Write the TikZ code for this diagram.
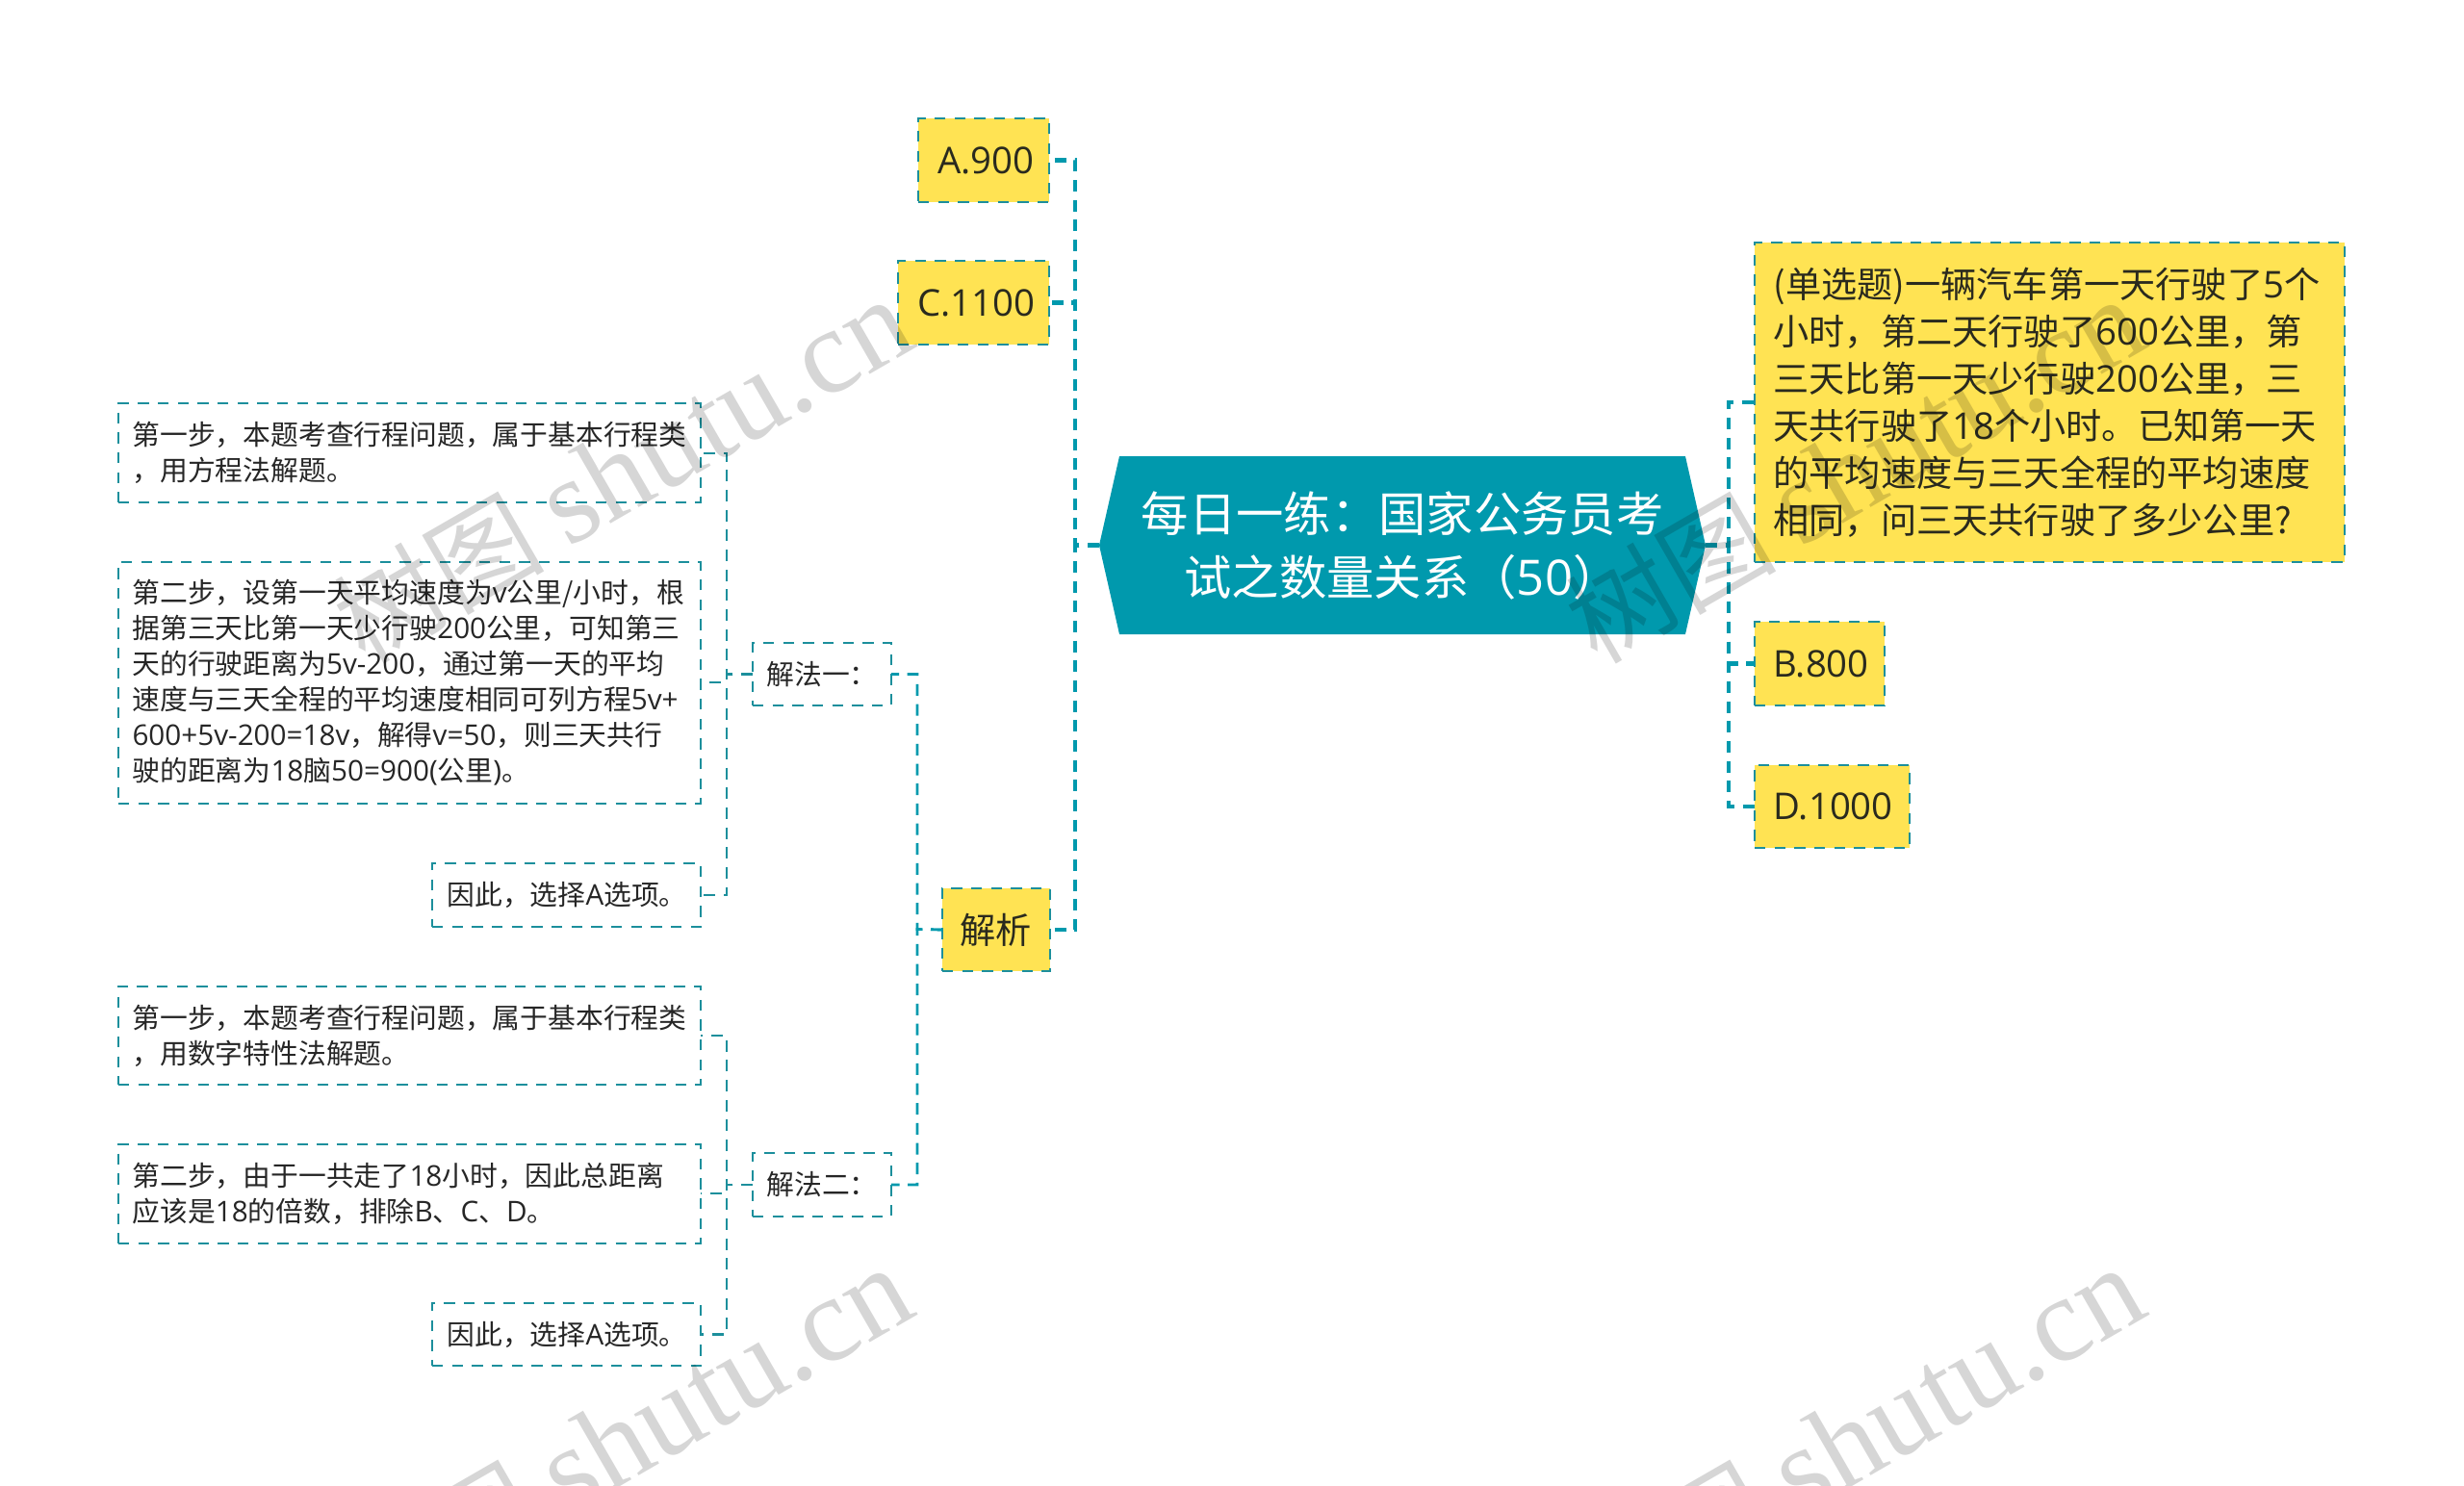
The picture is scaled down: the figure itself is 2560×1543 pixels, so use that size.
\documentclass[tikz,border=0pt]{standalone}
\usepackage{fontspec}
\setmainfont{Noto Sans CJK SC}
\newfontfamily\latf[Scale=1.03]{Open Sans}
\newfontfamily\wmf{Liberation Serif}
\usetikzlibrary{calc,backgrounds}
\definecolor{teal1}{HTML}{0099AD}
\definecolor{edge1}{HTML}{1C8F9C}
\definecolor{yell}{HTML}{FFE353}
\definecolor{ink}{HTML}{2A2A1E}
\newcommand\latn[1]{{\latf #1}}
\newcommand\bnode[8]{%
  \pgfmathsetlengthmacro\bw{(#5-#3)*0.75pt}%
  \pgfmathsetlengthmacro\bh{(#6-#4)*0.75pt}%
  \pgfmathsetlengthmacro\bp{#7*0.75pt}%
  \pgfmathsetlengthmacro\bt{\bw-2*\bp}%
  \node[#1,anchor=north west,minimum width=\bw,minimum height=\bh,
        inner xsep=\bp,text width=\bt] (#2) at (#3,#4) {#8};}
\tikzset{
  yellowbox/.style={draw=edge1,fill=yell,line width=1.5pt,dash pattern=on 8.5pt off 7pt,
    outer sep=0pt,inner ysep=0pt,align=left,text=ink,
    font=\fontsize{27.9pt}{36.75pt}\selectfont},
  plainbox/.style={draw=edge1,line width=1.4pt,dash pattern=on 8.5pt off 7pt,
    outer sep=0pt,inner ysep=0pt,align=left,text=black!85,
    font=\fontsize{21.6pt}{27.75pt}\selectfont},
  rootbox/.style={outer sep=0pt,inner sep=0pt,align=center,text=white,
    font=\fontsize{37pt}{49.5pt}\selectfont,
    minimum width=472.5pt,minimum height=138.75pt},
  connA/.style={draw=teal1,line width=3.2pt,dash pattern=on 9pt off 6.5pt},
  connB/.style={draw=teal1,line width=2pt,dash pattern=on 9pt off 6.5pt},
  connC/.style={draw=edge1,line width=1.6pt,dash pattern=on 9pt off 6.5pt},
  wmark/.style={black,opacity=.16,rotate=30,anchor=south east,inner sep=0pt,
    font=\fontsize{82pt}{82pt}\selectfont},
}
\begin{document}
\begin{tikzpicture}[x=0.75pt,y=-0.75pt]
\useasboundingbox (0,0) rectangle (2560,1543);
\clip (0,0) rectangle (2560,1543);

% root
\node[rootbox] (root) at (1457,566.5) {每日一练：国家公务员考\\试之数量关系（\latn{50}）};
\begin{scope}[on background layer]
\fill[teal1] (root.west) -- ($(root.north west)+(21,0)$) -- ($(root.north east)+(-21,0)$)
  -- (root.east) -- ($(root.south east)+(-21,0)$) -- ($(root.south west)+(21,0)$) -- cycle;
\end{scope}

% right side
\bnode{yellowbox}{q}{1823}{252}{2436}{584}{19.5}{(单选题)一辆汽车第一天行驶了\latn{5}个\\小时，第二天行驶了\latn{600}公里，第\\三天比第一天少行驶\latn{200}公里，三\\天共行驶了\latn{18}个小时。已知第一天\\的平均速度与三天全程的平均速度\\相同，问三天共行驶了多少公里?}
\bnode{yellowbox}{b}{1823}{646}{1958}{733}{19.5}{\latn{B.800}}
\bnode{yellowbox}{d}{1823}{795}{1984}{881}{19.5}{\latn{D.1000}}

% left level 1
\bnode{yellowbox}{a}{954}{123}{1090}{210}{20}{\latn{A.900}}
\bnode{yellowbox}{c}{933}{271}{1090}{358}{20}{\latn{C.1100}}
\bnode{yellowbox}{jx}{979}{923}{1091}{1009}{18}{解析}

% level 2
\bnode{plainbox}{m1}{782}{668}{926}{733}{14.5}{解法一：}
\bnode{plainbox}{m2}{782}{1198}{926}{1264}{14.5}{解法二：}

% level 3
\bnode{plainbox}{s1}{123}{419}{728}{522}{14.5}{第一步，本题考查行程问题，属于基本行程类\\，用方程法解题。}
\bnode{plainbox}{s2}{123}{584}{728}{835}{14.5}{第二步，设第一天平均速度为\latn{v}公里/小时，根\\据第三天比第一天少行驶\latn{200}公里，可知第三\\天的行驶距离为\latn{5v-200}，通过第一天的平均\\速度与三天全程的平均速度相同可列方程\latn{5v+}\\\latn{600+5v-200=18v}，解得\latn{v=50}，则三天共行\\驶的距离为\latn{18}脑\latn{50=900(}公里\latn{)}。}
\bnode{plainbox}{s3}{449}{897}{728}{963}{15.5}{因此，选择\latn{A}选项。}
\bnode{plainbox}{s4}{123}{1025}{728}{1127}{14.5}{第一步，本题考查行程问题，属于基本行程类\\，用数字特性法解题。}
\bnode{plainbox}{s5}{123}{1189}{728}{1292}{14.5}{第二步，由于一共走了\latn{18}小时，因此总距离\\应该是\latn{18}的倍数，排除\latn{B}、\latn{C}、\latn{D}。}
\bnode{plainbox}{s6}{449}{1354}{728}{1419}{15.5}{因此，选择\latn{A}选项。}

% buses
\coordinate (busL) at (1117,566.5);
\coordinate (busR) at (1796,566.5);
\coordinate (busJ) at (953,965.5);
\coordinate (busM1) at (755,700.5);
\coordinate (busM2) at (755,1231);

% connectors from root
\draw[connA] (root.east) -- (busR) |- (q.west |- 0,418);
\draw[connA] (root.east) -- (busR) |- (b.west);
\draw[connA] (root.east) -- (busR) |- (d.west);
\draw[connA] (root.west) -- (busL) |- (a.east);
\draw[connA] (root.west) -- (busL) |- (c.east);
\draw[connA] (root.west) -- (busL) |- (jx.east);

% from jiexi
\draw[connB] (jx.west) -- (busJ) |- (m1.east);
\draw[connB] (jx.west) -- (busJ) |- (m2.east);

% from methods
\draw[connC] (m1.west) -- (busM1) |- (s1.east |- 0,471);
\draw[connC] (m1.west) -- (busM1) |- (s2.east |- 0,709);
\draw[connC] (m1.west) -- (busM1) |- (s3.east);
\draw[connC] (m2.west) -- (busM2) |- (s4.east);
\draw[connC] (m2.west) -- (busM2) |- (s5.east |- 0,1240);
\draw[connC] (m2.west) -- (busM2) |- (s6.east);

% watermarks
\node[wmark] (w1) at (960,367) {树图 {\wmf\fontsize{94pt}{94pt}\selectfont shutu.cn}};
\node[wmark] (w2) at (2240,367) {树图 {\wmf\fontsize{94pt}{94pt}\selectfont shutu.cn}};
\node[wmark] (w3) at (960,1373) {树图 {\wmf\fontsize{94pt}{94pt}\selectfont shutu.cn}};
\node[wmark] (w4) at (2240,1373) {树图 {\wmf\fontsize{94pt}{94pt}\selectfont shutu.cn}};
\end{tikzpicture}
\end{document}
